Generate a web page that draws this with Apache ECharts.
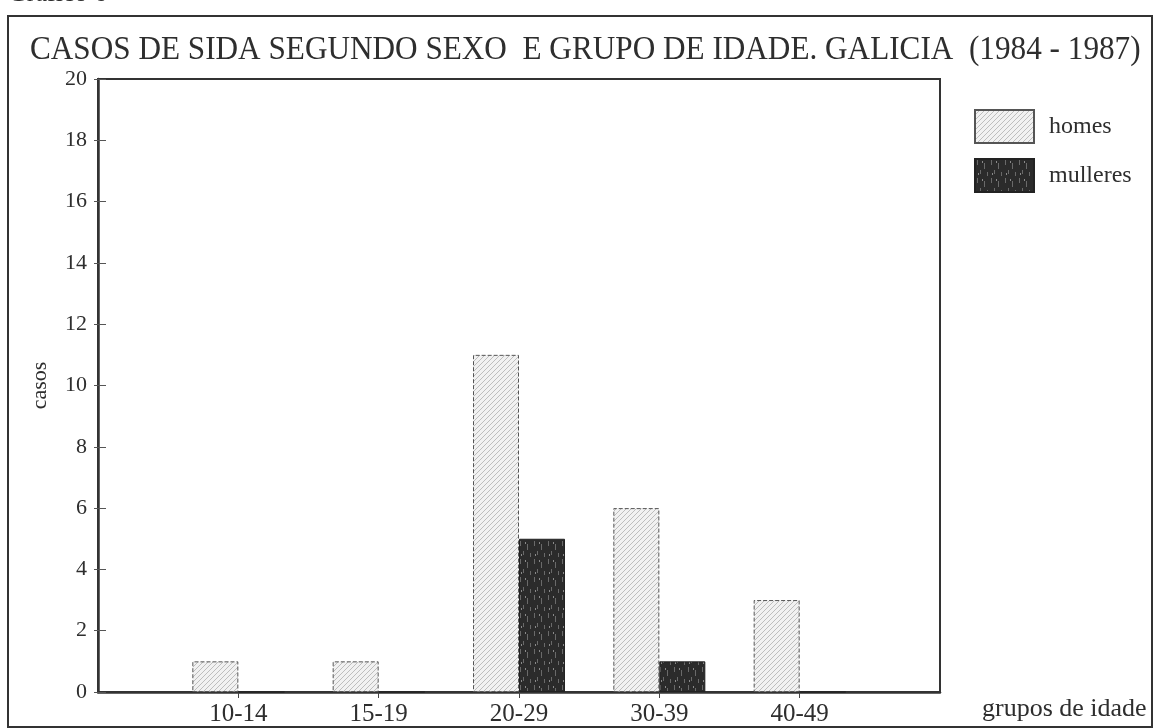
<!DOCTYPE html>
<html>
<head>
<meta charset="utf-8">
<script src="https://cdn.jsdelivr.net/npm/echarts@6/dist/echarts.min.js"></script>
<style>
  html, body { margin: 0; padding: 0; background: #ffffff; }
  #chart { width: 1162px; height: 728px; }
</style>
</head>
<body>
<div id="chart"></div>
<script>
// ---- data ----
var categories = ['10-14', '15-19', '20-29', '30-39', '40-49'];
var homes      = [1, 1, 11, 6, 3];
var mulleres   = [0, 0, 5, 1, 0];
var yTicks     = [0, 2, 4, 6, 8, 10, 12, 14, 16, 18, 20];
var seriesNames = ['homes', 'mulleres'];
var titleText  = 'CASOS DE SIDA SEGUNDO SEXO  E GRUPO DE IDADE. GALICIA  (1984 - 1987)';

// ---- fill patterns (style only) ----
function hatchPattern() {
  var c = document.createElement('canvas');
  c.width = 5; c.height = 5;
  var g = c.getContext('2d');
  g.fillStyle = '#f1f1f1';
  g.fillRect(0, 0, 5, 5);
  g.strokeStyle = '#bdbdbd';
  g.lineWidth = 1;
  g.beginPath();
  g.moveTo(-1, 6); g.lineTo(6, -1);
  g.moveTo(-1, 1); g.lineTo(1, -1);
  g.moveTo(4, 6); g.lineTo(6, 4);
  g.stroke();
  return c;
}
function darkPattern() {
  var c = document.createElement('canvas');
  c.width = 14; c.height = 18;
  var g = c.getContext('2d');
  g.fillStyle = '#2b2b2b';
  g.fillRect(0, 0, 14, 18);
  g.fillStyle = '#6a6a6a';
  g.fillRect(2, 1, 1, 5);
  g.fillRect(9, 4, 1, 6);
  g.fillRect(5, 11, 1, 4);
  g.fillRect(12, 13, 1, 4);
  g.fillStyle = '#8a8a8a';
  g.fillRect(7, 2, 1, 2);
  g.fillRect(3, 14, 1, 2);
  return c;
}

var pad = function (arr, v) { return [v].concat(arr, [v]); };
var axisCats = pad(categories, '');

var serif = '"Liberation Serif", "DejaVu Serif", serif';
var ink = '#2e2e2e';

var chart = echarts.init(document.getElementById('chart'), null, { renderer: 'canvas' });
chart.setOption({
  backgroundColor: '#ffffff',
  animation: false,
  graphic: [
    {
      type: 'rect', z: -1, silent: true,
      shape: { x: 8, y: 16, width: 1144, height: 711 },
      style: { fill: 'none', stroke: '#333', lineWidth: 2 }
    },
    {
      type: 'text', silent: true, x: 8, y: -19,
      style: { text: 'Gráfico 6', font: '26px ' + serif, fill: ink, verticalAlign: 'top' }
    },
    {
      type: 'text', silent: true, x: 30, y: 33, scaleX: 0.918,
      style: { text: titleText, font: '34px ' + serif, fill: ink, verticalAlign: 'top' }
    }
  ],
  legend: {
    data: seriesNames,
    orient: 'vertical',
    left: 974,
    top: 109,
    itemWidth: 59,
    itemHeight: 33,
    itemGap: 14,
    padding: 0,
    icon: 'rect',
    textStyle: { fontFamily: serif, fontSize: 24, color: ink, padding: [0, 0, 0, 10] }
  },
  grid: {
    left: 98, right: 222, top: 79, bottom: 36,
    show: true, borderColor: '#333', borderWidth: 2, backgroundColor: 'transparent'
  },
  xAxis: {
    type: 'category',
    data: axisCats,
    boundaryGap: false,
    name: 'grupos de idade',
    nameLocation: 'end',
    nameGap: 42,
    nameTextStyle: { fontFamily: serif, fontSize: 26, color: ink, align: 'left', verticalAlign: 'top', padding: [4, 0, 0, 0] },
    axisLine: { lineStyle: { color: '#333', width: 2.5 } },
    axisTick: {
      show: true, length: 6, lineStyle: { color: '#444', width: 1 },
      interval: function (i) { return i > 0 && i < axisCats.length - 1; }
    },
    axisLabel: {
      interval: 0, margin: 10, fontFamily: serif, fontSize: 25, color: ink
    },
    splitLine: { show: false }
  },
  yAxis: [
    {
      type: 'value',
      min: yTicks[0], max: yTicks[yTicks.length - 1], interval: yTicks[1] - yTicks[0],
      name: 'casos',
      nameLocation: 'middle',
      nameGap: 47,
      nameRotate: 90,
      nameTextStyle: { fontFamily: serif, fontSize: 22, color: ink },
      axisLine: { show: true, lineStyle: { color: '#333', width: 2.5 } },
      axisTick: { show: true, inside: true, length: 8, lineStyle: { color: '#555', width: 1 } },
      axisLabel: { margin: 11, fontFamily: serif, fontSize: 22, color: ink },
      splitLine: { show: false }
    },
    {
      type: 'value', position: 'left',
      min: yTicks[0], max: yTicks[yTicks.length - 1], interval: yTicks[1] - yTicks[0],
      axisLine: { show: false },
      axisTick: { show: true, inside: false, length: 4, lineStyle: { color: '#555', width: 1 } },
      axisLabel: { show: false },
      splitLine: { show: false }
    }
  ],
  series: [
    {
      name: seriesNames[0],
      type: 'bar',
      data: pad(homes, null),
      barWidth: 46,
      barGap: '0%',
      itemStyle: {
        color: { image: hatchPattern(), repeat: 'repeat' },
        borderColor: '#555', borderWidth: 1, borderType: 'dashed'
      }
    },
    {
      name: seriesNames[1],
      type: 'bar',
      data: pad(mulleres, null),
      barWidth: 46,
      barGap: '0%',
      itemStyle: {
        color: { image: darkPattern(), repeat: 'repeat' },
        borderColor: '#222', borderWidth: 1
      }
    }
  ]
});
</script>
</body>
</html>
